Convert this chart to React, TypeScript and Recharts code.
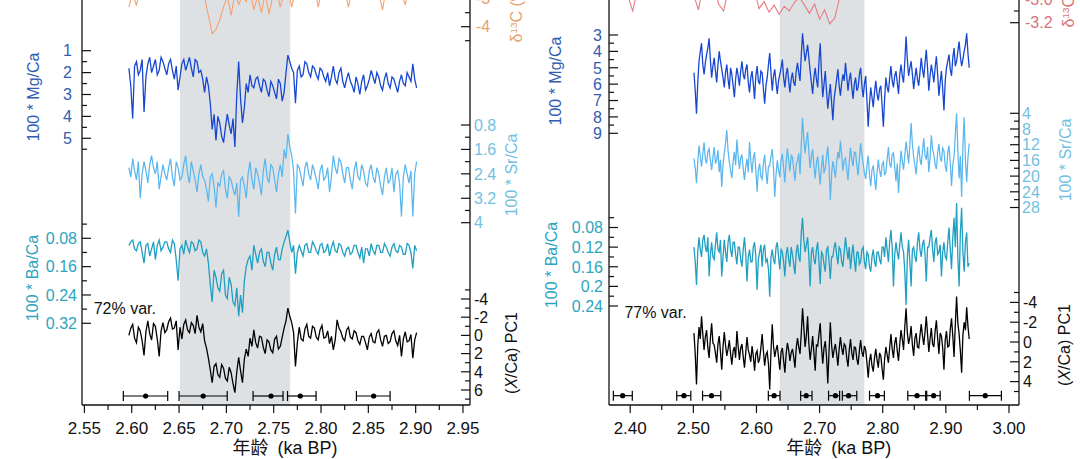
import React from 'react';
import { ComposedChart, Line, XAxis, YAxis, ReferenceArea, Scatter, ErrorBar } from 'recharts';

// ================= DATA : left panel =================
const ageL = [
  2.597, 2.599, 2.601, 2.603, 2.605, 2.607, 2.609, 2.611, 2.613, 2.615,
  2.617, 2.619, 2.621, 2.623, 2.625, 2.627, 2.629, 2.631, 2.633, 2.635,
  2.637, 2.639, 2.641, 2.643, 2.645, 2.647, 2.649, 2.651, 2.653, 2.655,
  2.657, 2.659, 2.661, 2.663, 2.665, 2.667, 2.669, 2.671, 2.673, 2.675,
  2.677, 2.679, 2.681, 2.683, 2.685, 2.687, 2.689, 2.691, 2.693, 2.695,
  2.697, 2.699, 2.701, 2.703, 2.705, 2.707, 2.709, 2.711, 2.713, 2.715,
  2.717, 2.719, 2.721, 2.723, 2.725, 2.727, 2.729, 2.731, 2.733, 2.735,
  2.737, 2.739, 2.741, 2.743, 2.745, 2.747, 2.749, 2.751, 2.753, 2.755,
  2.757, 2.759, 2.761, 2.763, 2.765, 2.767, 2.769, 2.771, 2.773, 2.775,
  2.777, 2.779, 2.781, 2.783, 2.785, 2.787, 2.789, 2.791, 2.793, 2.795,
  2.797, 2.799, 2.801, 2.803, 2.805, 2.807, 2.809, 2.811, 2.813, 2.815,
  2.817, 2.819, 2.821, 2.823, 2.825, 2.827, 2.829, 2.831, 2.833, 2.835,
  2.837, 2.839, 2.841, 2.843, 2.845, 2.847, 2.849, 2.851, 2.853, 2.855,
  2.857, 2.859, 2.861, 2.863, 2.865, 2.867, 2.869, 2.871, 2.873, 2.875,
  2.877, 2.879, 2.881, 2.883, 2.885, 2.887, 2.889, 2.891, 2.893, 2.895,
  2.897, 2.899, 2.901,
];
const mgL = [
  1.8, 2.6, 4.1, 1.7, 1.5, 2.1, 1.9, 1.4, 3.8, 2.2,
  1.6, 1.3, 2.0, 1.7, 1.4, 2.1, 1.9, 1.3, 1.5, 1.8,
  2.1, 1.6, 1.4, 1.9, 2.3, 1.7, 2.8, 2.2, 1.6, 1.4,
  1.9, 1.6, 1.3, 1.8, 2.2, 1.4, 1.5, 2.0, 1.9, 2.3,
  2.9, 2.2, 2.6, 3.4, 4.6, 3.9, 5.1, 4.0, 4.3, 4.9,
  5.2, 4.5, 3.9, 4.4, 4.8, 4.1, 5.4, 3.0, 1.5, 3.2,
  4.3, 3.6, 2.5, 2.9, 2.1, 2.6, 2.7, 2.3, 2.2, 2.6,
  2.9, 2.3, 2.4, 2.8, 3.1, 2.4, 2.6, 2.9, 3.2, 2.3,
  2.5, 3.3, 2.9, 2.0, 1.2, 1.5, 1.8, 2.0, 3.4, 1.9,
  1.7, 2.2, 2.1, 1.5, 1.6, 2.0, 2.2, 1.7, 1.8, 2.1,
  2.3, 1.8, 1.9, 2.2, 2.4, 2.0, 2.6, 2.2, 1.7, 2.3,
  2.5, 2.0, 1.8, 2.4, 2.7, 2.3, 2.0, 2.4, 2.6, 2.9,
  2.2, 2.5, 3.0, 2.4, 2.1, 2.8, 2.6, 2.3, 1.9, 2.2,
  2.5, 2.0, 2.2, 2.6, 2.8, 2.3, 2.0, 2.5, 2.7, 2.2,
  2.3, 2.6, 2.9, 2.4, 2.1, 2.5, 2.6, 2.0, 2.2, 2.4,
  1.6, 2.3, 2.7,
];
const srL = [
  2.2, 2.5, 1.9, 2.3, 2.6, 2.0, 3.2, 2.4, 2.0, 2.3,
  2.7, 2.1, 1.8, 2.2, 2.4, 2.0, 2.9, 2.5, 2.1, 2.4,
  2.6, 2.2, 1.9, 2.5, 2.8, 2.0, 2.2, 2.6, 2.5, 2.1,
  1.8, 2.4, 2.7, 2.0, 2.3, 2.6, 3.0, 2.4, 2.1, 2.5,
  2.6, 2.9, 3.3, 2.5, 2.4, 2.8, 3.5, 2.7, 2.8, 2.4,
  2.3, 2.9, 3.2, 2.5, 2.6, 2.9, 3.1, 2.7, 3.8, 2.6,
  2.5, 2.8, 3.2, 2.4, 2.0, 2.6, 2.9, 2.2, 2.4, 2.7,
  3.1, 2.3, 1.9, 2.5, 2.7, 2.1, 2.2, 2.6, 3.0, 2.4,
  2.1, 2.5, 1.6, 1.9, 1.1, 1.5, 1.8, 2.3, 3.7, 2.1,
  2.2, 2.5, 2.8, 2.2, 2.0, 2.4, 2.6, 2.1, 2.3, 2.6,
  2.9, 2.3, 2.1, 2.6, 2.5, 2.2, 3.0, 2.5, 1.8, 2.2,
  2.4, 1.9, 2.0, 2.4, 2.7, 2.2, 2.2, 2.6, 2.9, 2.3,
  2.0, 2.5, 2.6, 2.1, 2.3, 2.7, 2.8, 2.3, 2.1, 2.5,
  2.7, 2.2, 2.4, 2.8, 3.1, 2.5, 2.2, 2.7, 2.6, 2.2,
  3.0, 2.4, 2.3, 2.7, 3.8, 2.5, 2.1, 2.4, 2.7, 2.3,
  3.8, 2.4, 2.0,
];
const baL = [
  0.10, 0.09, 0.085, 0.11, 0.115, 0.095, 0.09, 0.12, 0.15, 0.10,
  0.095, 0.13, 0.11, 0.09, 0.14, 0.10, 0.085, 0.115, 0.105, 0.09,
  0.09, 0.11, 0.12, 0.085, 0.095, 0.14, 0.20, 0.11, 0.10, 0.125,
  0.085, 0.105, 0.12, 0.09, 0.095, 0.115, 0.11, 0.085, 0.09, 0.12,
  0.13, 0.11, 0.15, 0.21, 0.26, 0.17, 0.19, 0.22, 0.23, 0.18,
  0.17, 0.24, 0.25, 0.19, 0.21, 0.26, 0.27, 0.22, 0.30, 0.24,
  0.29, 0.20, 0.16, 0.14, 0.13, 0.17, 0.10, 0.125, 0.15, 0.12,
  0.11, 0.145, 0.16, 0.12, 0.12, 0.15, 0.17, 0.125, 0.105, 0.14,
  0.14, 0.11, 0.09, 0.075, 0.057, 0.09, 0.12, 0.10, 0.18, 0.12,
  0.10, 0.115, 0.13, 0.10, 0.095, 0.12, 0.12, 0.09, 0.10, 0.115,
  0.125, 0.10, 0.095, 0.12, 0.115, 0.095, 0.13, 0.105, 0.09, 0.115,
  0.12, 0.095, 0.10, 0.12, 0.13, 0.11, 0.105, 0.125, 0.12, 0.10,
  0.10, 0.12, 0.135, 0.105, 0.15, 0.11, 0.11, 0.13, 0.095, 0.115,
  0.125, 0.10, 0.10, 0.12, 0.12, 0.095, 0.105, 0.12, 0.13, 0.105,
  0.095, 0.115, 0.12, 0.10, 0.105, 0.125, 0.125, 0.095, 0.10, 0.12,
  0.165, 0.10, 0.115,
];
const pcL = [
  0.0, -0.8, -1.2, 0.3, 0.8, -0.9, -0.5, 0.6, 2.2, -0.4,
  -1.6, -0.2, 0.5, -1.3, -1.0, 0.4, 2.3, -0.5, -1.4, -0.3,
  -0.6, -1.5, -1.9, -0.7, -0.8, -1.6, 1.6, -0.9, 0.4, -1.2,
  -1.7, -0.6, -0.3, -1.4, -1.1, -0.2, -2.2, -0.9, -0.4, -1.3,
  0.6, 1.4, 2.5, 3.8, 5.2, 3.4, 3.1, 4.3, 4.6, 3.2,
  3.6, 4.7, 5.0, 3.5, 4.1, 5.3, 6.3, 4.0, 2.4, 3.9,
  5.2, 2.6, 1.5, 2.3, 0.3, 1.2, -0.6, 0.8, 1.4, 0.1,
  0.2, 1.3, 2.0, 0.5, 0.7, 1.6, 1.9, 0.4, 0.1, 1.5,
  1.2, 0.2, -0.8, -1.6, -3.0, -2.1, -1.4, -0.3, 3.4, 0.8,
  -0.9, 0.4, 0.6, -0.7, -1.2, 0.1, 0.3, -1.0, -0.8, 0.2,
  0.5, -0.6, -1.1, 0.3, 0.2, -0.5, 0.9, 0.1, 1.6, 0.5,
  -1.7, -0.8, -0.4, 0.3, 0.6, -0.6, -0.9, 0.2, 0.4, -0.5,
  -0.3, 0.6, 1.0, 0.1, 0.1, 0.8, 1.6, 0.2, -0.2, 0.7,
  0.8, -0.3, -0.6, 0.5, 1.2, 0.1, 0.0, 0.9, 0.7, -0.2,
  -0.5, 0.6, 1.1, 0.0, 2.3, 0.4, -0.4, 0.7, 0.6, -0.1,
  2.5, 0.5, -0.3,
];
const ageD13L = [
  2.597, 2.601, 2.605, 2.609, 2.613, 2.617, 2.621, 2.625, 2.629, 2.633,
  2.637, 2.641, 2.645, 2.649, 2.653, 2.657, 2.661, 2.665, 2.669, 2.673,
  2.677, 2.681, 2.685, 2.689, 2.693, 2.697, 2.701, 2.705, 2.709, 2.713,
  2.717, 2.721, 2.725, 2.729, 2.733, 2.737, 2.741, 2.745, 2.749, 2.753,
  2.757, 2.761, 2.765, 2.769, 2.773, 2.777, 2.781, 2.785, 2.789, 2.793,
  2.797, 2.801, 2.805, 2.809, 2.813, 2.817, 2.821, 2.825, 2.829, 2.833,
  2.837, 2.841, 2.845, 2.849, 2.853, 2.857, 2.861, 2.865, 2.869, 2.873,
  2.877, 2.881, 2.885, 2.889, 2.893, 2.897, 2.901,
];
const d13L = [
  -3.3, -2.8, -3.25, -2.6, -2.9, -2.5, -2.8, -2.4, -2.7, -2.9,
  -2.5, -2.8, -2.6, -2.9, -2.4, -2.7, -2.5, -2.85, -2.6, -2.9,
  -2.95, -3.6, -4.25, -4.1, -3.75, -3.3, -2.9, -3.6, -2.8, -3.2,
  -2.9, -3.1, -2.7, -3.4, -2.9, -3.5, -2.8, -3.55, -2.9, -2.7,
  -3.3, -2.8, -2.6, -3.3, -2.7, -2.5, -2.8, -2.6, -2.9, -2.5,
  -3.3, -2.7, -2.5, -2.8, -2.6, -2.9, -2.5, -2.7, -3.3, -2.6,
  -2.8, -2.5, -2.9, -2.6, -2.7, -2.4, -2.8, -3.4, -2.6, -2.8,
  -2.5, -2.7, -2.9, -3.2, -2.6, -2.8, -2.5,
];
const dateCtrL = [2.6147, 2.6755, 2.7472, 2.7781, 2.8556];
const dateLoL = [2.5911, 2.6500, 2.7282, 2.7646, 2.8374];
const dateHiL = [2.6380, 2.7009, 2.7599, 2.7948, 2.8730];
const bandL: [number, number] = [2.651, 2.7675];

// ================= DATA : right panel =================
const ageR = [
  2.501, 2.503, 2.505, 2.507, 2.509, 2.511, 2.513, 2.515, 2.517, 2.519,
  2.521, 2.523, 2.525, 2.527, 2.529, 2.531, 2.533, 2.535, 2.537, 2.539,
  2.541, 2.543, 2.545, 2.547, 2.549, 2.551, 2.553, 2.555, 2.557, 2.559,
  2.561, 2.563, 2.565, 2.567, 2.569, 2.571, 2.573, 2.575, 2.577, 2.579,
  2.581, 2.583, 2.585, 2.587, 2.589, 2.591, 2.593, 2.595, 2.597, 2.599,
  2.601, 2.603, 2.605, 2.607, 2.609, 2.611, 2.613, 2.615, 2.617, 2.619,
  2.621, 2.623, 2.625, 2.627, 2.629, 2.631, 2.633, 2.635, 2.637, 2.639,
  2.641, 2.643, 2.645, 2.647, 2.649, 2.651, 2.653, 2.655, 2.657, 2.659,
  2.661, 2.663, 2.665, 2.667, 2.669, 2.671, 2.673, 2.675, 2.677, 2.679,
  2.681, 2.683, 2.685, 2.687, 2.689, 2.691, 2.693, 2.695, 2.697, 2.699,
  2.701, 2.703, 2.705, 2.707, 2.709, 2.711, 2.713, 2.715, 2.717, 2.719,
  2.721, 2.723, 2.725, 2.727, 2.729, 2.731, 2.733, 2.735, 2.737, 2.739,
  2.741, 2.743, 2.745, 2.747, 2.749, 2.751, 2.753, 2.755, 2.757, 2.759,
  2.761, 2.763, 2.765, 2.767, 2.769, 2.771, 2.773, 2.775, 2.777, 2.779,
  2.781, 2.783, 2.785, 2.787, 2.789, 2.791, 2.793, 2.795, 2.797, 2.799,
  2.801, 2.803, 2.805, 2.807, 2.809, 2.811, 2.813, 2.815, 2.817, 2.819,
  2.821, 2.823, 2.825, 2.827, 2.829, 2.831, 2.833, 2.835, 2.837, 2.839,
  2.841, 2.843, 2.845, 2.847, 2.849, 2.851, 2.853, 2.855, 2.857, 2.859,
  2.861, 2.863, 2.865, 2.867, 2.869, 2.871, 2.873, 2.875, 2.877, 2.879,
  2.881, 2.883, 2.885, 2.887, 2.889, 2.891, 2.893, 2.895, 2.897, 2.899,
  2.901, 2.903, 2.905, 2.907, 2.909, 2.911, 2.913, 2.915, 2.917, 2.919,
  2.921, 2.923, 2.925, 2.927, 2.929, 2.931, 2.933, 2.935, 2.937,
];
const mgR = [
  5.3, 6.4, 7.8, 5.9, 4.6, 4.0, 3.5, 4.8, 5.4, 4.7,
  4.2, 3.8, 3.2, 4.5, 5.6, 4.9, 4.4, 5.2, 5.9, 4.8,
  4.0, 4.6, 5.1, 5.6, 6.2, 5.3, 4.8, 5.7, 6.3, 5.0,
  5.4, 6.1, 6.8, 5.7, 5.0, 5.5, 6.1, 5.2, 4.6, 5.4,
  5.7, 5.1, 4.8, 5.9, 6.5, 5.6, 5.2, 6.0, 6.9, 5.5,
  4.9, 5.8, 6.0, 5.2, 5.3, 6.3, 7.2, 6.1, 5.6, 4.8,
  4.1, 5.3, 6.4, 5.5, 5.1, 5.9, 6.6, 5.8, 5.4, 5.0,
  4.5, 5.6, 6.2, 5.4, 5.0, 5.8, 6.5, 5.7, 5.3, 5.9,
  6.1, 5.2, 4.7, 5.3, 5.8, 4.2, 2.9, 3.8, 4.6, 4.1,
  3.6, 4.4, 5.2, 5.9, 6.6, 5.6, 5.0, 5.7, 6.2, 4.6,
  3.5, 5.4, 6.8, 6.0, 5.2, 6.4, 7.5, 6.7, 6.0, 7.1,
  8.2, 6.9, 6.3, 5.7, 5.1, 6.1, 6.7, 5.9, 5.4, 5.8,
  4.7, 5.5, 6.4, 5.7, 5.3, 6.2, 6.9, 6.0, 5.6, 6.4,
  6.2, 5.4, 5.0, 6.1, 6.8, 6.0, 5.5, 7.0, 8.6, 7.2,
  6.2, 6.8, 7.4, 6.5, 5.8, 6.6, 7.0, 6.3, 6.1, 7.3,
  8.6, 6.9, 5.6, 6.2, 6.5, 5.6, 4.9, 5.8, 6.2, 5.5,
  5.2, 5.9, 6.6, 5.4, 4.8, 5.5, 5.9, 4.6, 3.1, 4.5,
  5.5, 5.0, 4.6, 5.4, 6.3, 5.6, 5.0, 5.7, 6.1, 5.3,
  4.4, 5.1, 5.6, 4.7, 3.9, 5.0, 6.4, 5.5, 4.8, 5.3,
  5.9, 5.0, 4.3, 5.4, 6.7, 5.9, 5.2, 6.3, 7.6, 5.8,
  5.0, 4.6, 4.2, 5.1, 5.5, 4.4, 3.8, 4.9, 4.6, 4.0,
  3.4, 4.3, 4.9, 4.5, 4.0, 3.6, 2.9, 4.1, 5.0,
];
const srR = [
  15.5, 18.0, 21.8, 16.2, 12.2, 15.0, 17.6, 14.3, 11.4, 15.6,
  16.8, 13.7, 13.0, 16.1, 18.5, 15.2, 12.6, 16.8, 15.9, 13.4,
  19.0, 15.8, 22.8, 17.0, 14.2, 11.5, 8.3, 13.6, 16.4, 18.7,
  20.5, 16.3, 13.8, 17.2, 10.7, 14.9, 18.2, 15.4, 14.5, 18.1,
  21.0, 17.6, 15.6, 19.0, 11.3, 16.0, 19.2, 15.3, 13.9, 18.4,
  24.0, 18.5, 16.8, 20.1, 20.8, 16.7, 14.6, 18.9, 22.0, 17.5,
  17.4, 15.0, 13.1, 18.2, 25.3, 19.6, 16.0, 18.4, 20.3, 15.9,
  14.3, 17.8, 21.6, 16.5, 12.9, 16.0, 18.8, 14.7, 15.2, 18.3,
  21.2, 17.1, 16.0, 14.2, 19.5, 11.8, 5.2, 10.4, 14.2, 11.0,
  8.8, 13.9, 17.9, 15.1, 13.2, 17.4, 20.6, 16.5, 15.0, 18.9,
  22.1, 17.7, 14.6, 19.3, 18.0, 15.2, 12.4, 17.8, 26.1, 19.5,
  16.2, 18.1, 20.4, 16.6, 13.8, 15.5, 11.0, 14.7, 18.6, 16.0,
  15.4, 18.2, 21.0, 16.4, 12.8, 15.8, 17.5, 13.9, 14.0, 17.3,
  19.8, 15.6, 11.6, 14.4, 16.9, 19.2, 20.7, 17.4, 14.8, 19.6,
  22.6, 18.4, 17.3, 20.5, 23.5, 19.1, 15.8, 18.6, 20.2, 17.0,
  16.4, 19.8, 19.0, 15.7, 12.6, 16.9, 17.8, 14.4, 14.1, 17.6,
  21.3, 16.8, 24.3, 18.0, 13.5, 16.2, 18.4, 14.6, 11.2, 13.8,
  16.8, 12.1, 6.5, 11.9, 15.1, 17.3, 19.6, 15.0, 12.3, 15.7,
  17.2, 13.5, 10.4, 14.8, 15.8, 12.6, 19.0, 15.4, 9.6, 13.2,
  14.5, 17.0, 18.2, 14.1, 11.8, 15.3, 16.3, 12.9, 13.6, 17.4,
  18.9, 14.0, 12.2, 16.7, 22.5, 17.1, 15.0, 9.2, 4.0, 13.5,
  20.6, 14.8, 25.3, 12.4, 5.0, 16.0, 21.5, 15.2, 11.7,
];
const baR = [
  0.12, 0.15, 0.197, 0.13, 0.10, 0.125, 0.14, 0.105, 0.095, 0.12,
  0.13, 0.10, 0.18, 0.135, 0.11, 0.14, 0.145, 0.115, 0.09, 0.125,
  0.13, 0.105, 0.18, 0.14, 0.105, 0.13, 0.15, 0.11, 0.095, 0.125,
  0.14, 0.11, 0.11, 0.135, 0.155, 0.12, 0.12, 0.145, 0.16, 0.125,
  0.10, 0.135, 0.19, 0.14, 0.125, 0.15, 0.15, 0.12, 0.11, 0.14,
  0.207, 0.145, 0.13, 0.115, 0.16, 0.125, 0.115, 0.15, 0.145, 0.165,
  0.221, 0.14, 0.125, 0.145, 0.155, 0.12, 0.11, 0.14, 0.165, 0.125,
  0.13, 0.15, 0.18, 0.135, 0.12, 0.145, 0.16, 0.12, 0.135, 0.155,
  0.175, 0.13, 0.115, 0.14, 0.15, 0.09, 0.06, 0.105, 0.13, 0.115,
  0.10, 0.14, 0.2, 0.13, 0.12, 0.145, 0.155, 0.125, 0.11, 0.15,
  0.195, 0.13, 0.135, 0.155, 0.17, 0.125, 0.12, 0.15, 0.185, 0.14,
  0.14, 0.12, 0.11, 0.135, 0.155, 0.12, 0.125, 0.15, 0.16, 0.13,
  0.10, 0.125, 0.145, 0.12, 0.165, 0.135, 0.115, 0.145, 0.17, 0.13,
  0.13, 0.155, 0.15, 0.125, 0.12, 0.15, 0.165, 0.13, 0.135, 0.16,
  0.17, 0.14, 0.125, 0.15, 0.16, 0.13, 0.13, 0.145, 0.155, 0.12,
  0.12, 0.14, 0.1, 0.125, 0.15, 0.11, 0.085, 0.12, 0.2, 0.135,
  0.11, 0.13, 0.145, 0.115, 0.09, 0.12, 0.13, 0.17, 0.238, 0.14,
  0.105, 0.15, 0.2, 0.125, 0.12, 0.14, 0.15, 0.11, 0.09, 0.125,
  0.14, 0.115, 0.105, 0.135, 0.19, 0.12, 0.12, 0.10, 0.085, 0.125,
  0.15, 0.11, 0.1, 0.135, 0.13, 0.115, 0.18, 0.13, 0.11, 0.14,
  0.145, 0.11, 0.08, 0.125, 0.165, 0.10, 0.06, 0.12, 0.03, 0.14,
  0.2, 0.09, 0.04, 0.13, 0.17, 0.11, 0.09, 0.16, 0.153,
];
const pcR = [
  -0.9, 1.2, 4.3, 0.4, -1.5, -0.3, -2.6, -0.8, 0.8, -0.5,
  -1.2, 0.6, 1.6, -0.4, -1.9, 0.1, 0.3, 1.1, 2.1, 0.2,
  -0.6, 1.0, 2.8, 0.5, -1.0, 0.3, 1.4, 0.7, -0.2, 1.2,
  2.3, 0.9, 0.5, 1.6, -1.1, 0.4, 1.8, 0.6, 0.2, 1.5,
  2.6, 1.1, -0.5, 0.8, 1.3, 2.0, 0.4, 1.4, 2.9, 1.2,
  0.9, 2.1, 1.7, 0.6, -0.8, 0.9, 2.4, 1.3, 1.0, 2.2,
  4.8, 0.9, -1.8, 0.4, 1.5, 0.8, 0.3, 1.6, 2.8, 1.0,
  0.6, 1.9, 3.1, 1.2, 0.1, 0.8, 1.9, 1.1, 0.7, 1.5,
  2.6, 0.6, -0.4, 0.5, 1.2, -0.9, -3.4, -1.5, 0.5, -0.6,
  -2.6, 0.2, 1.8, 0.7, -0.6, 1.1, 2.9, 0.3, 0.4, -0.8,
  -1.9, 0.5, 2.2, 0.6, -0.1, 1.5, 4.2, 0.9, -2.0, 0.3,
  1.6, 0.8, 0.2, 1.2, 2.4, 0.7, -0.5, 0.6, 1.3, 0.2,
  0.4, 1.6, 2.5, 0.8, -0.3, 1.1, 1.8, 0.5, 0.6, 1.7,
  2.3, 0.9, -0.2, 1.0, 1.5, 0.4, 0.8, 2.1, 3.6, 1.9,
  1.2, 2.4, 3.0, 1.6, 0.7, 1.8, 2.6, 1.1, 1.4, 2.7,
  3.8, 1.7, 0.5, 1.3, 2.1, 0.6, -0.8, 0.7, 1.6, 0.1,
  -0.5, 0.9, 1.9, 0.2, -1.2, -0.3, 0.8, -1.6, -3.4, -0.9,
  0.2, -0.5, -1.6, 0.3, 1.4, -0.4, -0.9, 0.5, 0.6, -0.7,
  -1.8, -0.6, 0.3, -1.0, -2.6, -0.8, 1.0, -0.3, -1.4, 0.2,
  0.5, -1.1, -2.2, -0.4, 1.2, -0.9, -0.6, 0.6, 2.8, -0.2,
  -1.1, 0.5, 0.4, -1.3, -2.4, -0.6, 1.5, -1.8, -4.6, -1.9,
  -0.8, 0.9, 3.1, -0.7, -2.0, -1.2, -3.5, -1.6, -0.3,
];
const ageD13R = [
  2.380, 2.388, 2.396, 2.404, 2.412, 2.420, 2.428, 2.436, 2.444, 2.452,
  2.460, 2.468, 2.476, 2.484, 2.492, 2.500, 2.508, 2.516, 2.524, 2.532,
  2.540, 2.548, 2.556, 2.564, 2.572, 2.580, 2.588, 2.596, 2.604, 2.612,
  2.620, 2.628, 2.636, 2.644, 2.652, 2.660, 2.668, 2.676, 2.684, 2.692,
  2.700, 2.708, 2.716, 2.724, 2.732, 2.740, 2.748, 2.756, 2.764, 2.772,
  2.780, 2.788, 2.796, 2.804, 2.812, 2.820, 2.828, 2.836, 2.844, 2.852,
  2.860, 2.868, 2.876, 2.884, 2.892, 2.900, 2.908, 2.916, 2.924, 2.932, 2.940,
];
const d13R = [
  -2.85, -2.92, -2.97, -3.10, -2.9, -2.8, -2.88, -2.75, -2.83, -2.9,
  -2.78, -2.86, -2.7, -2.93, -2.82, -2.95, -3.09, -2.87, -2.96, -2.84,
  -3.04, -3.10, -2.9, -2.8, -2.92, -2.85, -2.97, -2.9, -3.08, -3.02,
  -3.11, -3.05, -3.13, -3.06, -3.10, -3.03, -2.98, -3.05, -3.12, -3.04,
  -3.17, -3.09, -3.21, -3.16, -2.98, -2.88, -2.8, -2.9, -2.75, -2.85,
  -2.7, -2.82, -2.9, -2.78, -2.86, -2.72, -2.8, -2.94, -2.76, -2.84,
  -2.7, -2.88, -2.8, -2.92, -2.74, -2.85, -2.78, -2.9, -2.82, -2.75, -2.86,
];
const dateCtrR = [2.3880, 2.4851, 2.5288, 2.6280, 2.6788, 2.7251, 2.7459, 2.7917, 2.8544, 2.8806, 2.9624];
const dateLoR = [2.3733, 2.4737, 2.5146, 2.6188, 2.6700, 2.7142, 2.7360, 2.7791, 2.8397, 2.8697, 2.9373];
const dateHiR = [2.4033, 2.4960, 2.5435, 2.6373, 2.6880, 2.7317, 2.7589, 2.8026, 2.8680, 2.8910, 2.9880];
const bandR: [number, number] = [2.637, 2.771];

// ================= TICKS =================
const xMajorL = [2.55, 2.6, 2.65, 2.7, 2.75, 2.8, 2.85, 2.9, 2.95];
const xMinorL = [2.575, 2.625, 2.675, 2.725, 2.775, 2.825, 2.875, 2.925];
const xMajorR = [2.4, 2.5, 2.6, 2.7, 2.8, 2.9, 3.0];
const xMinorR = [2.45, 2.55, 2.65, 2.75, 2.85, 2.95];

// ================= STYLE / LAYOUT =================
const FONT = "'Liberation Sans', Arial, Helvetica, sans-serif";
const W = 1080;
const H = 459;
const SHIFT = 60; // chart continues above the visible frame (cropped top)
const CH = H + SHIFT;
const PLOT_TOP = -SHIFT;
const PLOT_BOTTOM = 405;
const AXW = 0.01; // near-zero axis width so all axes of a side share the frame line
const BAND = '#dee1e4';
const C = {
  mg: '#1747d1', mgL: '#2f5db3',
  sr: '#5ab6ee', srL: '#74bfe0',
  ba: '#1f9fc1', baL: '#2ba5bd',
  d13a: '#f3a170', d13aL: '#e8a06c',
  d13b: '#e77b80', d13bL: '#d97379',
  pc: '#000000',
};

type Pt = { age: number; v: number };
const zip = (a: number[], v: number[]): Pt[] => a.map((age, i) => ({ age, v: v[i] }));
const mkDates = (c: number[], lo: number[], hi: number[]) =>
  c.map((age, i) => ({ age, row: 0, err: [age - lo[i], hi[i] - age] }));

const inv = (vA: number, pA: number, vB: number, pB: number) => (p: number) =>
  vA + ((p - pA) * (vB - vA)) / (pB - pA);

type AxisCfg = {
  id: string; side: 'left' | 'right'; ref: [number, number, number, number];
  majors: number[]; minors: number[]; color: string; gap: number;
  fmt?: (v: number) => string; line?: boolean;
};
type SeriesCfg = { axis: string; data: Pt[]; color: string; w: number };
type PanelCfg = {
  left: number; plotL: number; plotR: number; xRef: [number, number, number, number];
  xMajors: number[]; xMinors: number[]; band: [number, number];
  axes: AxisCfg[]; series: SeriesCfg[]; dates: any[]; rowY: number;
};

const near = (arr: number[], v: number) => arr.some((m) => Math.abs(m - v) < 1e-6);

function makeYTick(a: AxisCfg) {
  return (props: any) => {
    const { x, y, payload } = props;
    const v = payload.value;
    const major = near(a.majors, v);
    const dir = a.side === 'left' ? 1 : -1;
    const len = major ? 9 : 5;
    return (
      <g>
        <line x1={x} y1={y} x2={x + dir * len} y2={y} stroke="#111" strokeWidth={1.2} />
        {major ? (
          <text x={x - dir * a.gap} y={y} dy="0.36em" textAnchor={a.side === 'left' ? 'end' : 'start'}
            fill={a.color} fontSize={16} fontFamily={FONT}>
            {a.fmt ? a.fmt(v) : String(v)}
          </text>
        ) : null}
      </g>
    );
  };
}

function makeXTick(majors: number[]) {
  return (props: any) => {
    const { x, y, payload } = props;
    const major = near(majors, payload.value);
    return (
      <g>
        <line x1={x} y1={y} x2={x} y2={y + (major ? 8 : 5)} stroke="#111" strokeWidth={1.2} />
        {major ? (
          <text x={x} y={y + 23} dy="0.36em" textAnchor="middle" fill="#111" fontSize={17} fontFamily={FONT}>
            {Number(payload.value).toFixed(2)}
          </text>
        ) : null}
      </g>
    );
  };
}

const dateDot = (p: any) => <circle cx={p.cx} cy={p.cy} r={2.6} fill="#000" />;

function Panel({ cfg }: { cfg: PanelCfg }) {
  const fx = inv(...cfg.xRef);
  const xDomain: [number, number] = [fx(cfg.plotL), fx(cfg.plotR)];
  const fr = inv(0, cfg.rowY, 1, cfg.rowY - 10);
  const rowDomain: [number, number] = [fr(PLOT_BOTTOM), fr(PLOT_TOP)];
  return (
    <div style={{ position: 'absolute', left: cfg.left, top: -SHIFT, width: 540, height: CH }}>
      <ComposedChart
        width={540}
        height={CH}
        margin={{ top: 0, bottom: CH - (PLOT_BOTTOM + SHIFT) - AXW, left: cfg.plotL - cfg.left - AXW, right: cfg.left + 540 - cfg.plotR - AXW }}
      >
        <XAxis
          dataKey="age" type="number" domain={xDomain} allowDataOverflow
          ticks={[...cfg.xMajors, ...cfg.xMinors]} interval={0} height={AXW}
          tickSize={0} tickMargin={0} tickLine={false}
          axisLine={{ stroke: '#111', strokeWidth: 1.3 }} tick={makeXTick(cfg.xMajors)}
        />
        {cfg.axes.map((a) => {
          const f = inv(...a.ref);
          const vt = f(PLOT_TOP);
          const vb = f(PLOT_BOTTOM);
          const rev = vt < vb;
          const dom: [number, number] = rev ? [vt, vb] : [vb, vt];
          return (
            <YAxis
              key={a.id} yAxisId={a.id} orientation={a.side} width={AXW} type="number"
              domain={dom} reversed={rev} allowDataOverflow
              ticks={[...a.majors, ...a.minors]} interval={0}
              tickSize={0} tickMargin={0} tickLine={false}
              axisLine={a.line ? { stroke: '#111', strokeWidth: 1.3 } : false}
              tick={makeYTick(a)}
            />
          );
        })}
        <YAxis yAxisId="row" dataKey="row" hide type="number" domain={rowDomain} allowDataOverflow />
        <ReferenceArea yAxisId="pc" x1={cfg.band[0]} x2={cfg.band[1]} fill={BAND} fillOpacity={1} stroke="none" />
        {cfg.series.map((s, i) => (
          <Line
            key={i} yAxisId={s.axis} data={s.data} dataKey="v" type="linear"
            stroke={s.color} strokeWidth={s.w} dot={false} activeDot={false}
            isAnimationActive={false}
          />
        ))}
        <Scatter yAxisId="row" data={cfg.dates} dataKey="row" shape={dateDot} isAnimationActive={false}>
          <ErrorBar dataKey="err" direction="x" width={5} stroke="#000" strokeWidth={1.2} isAnimationActive={false} />
        </Scatter>
      </ComposedChart>
    </div>
  );
}

const leftCfg: PanelCfg = {
  left: 0, plotL: 82, plotR: 470, xRef: [2.55, 84.4, 2.95, 463],
  xMajors: xMajorL, xMinors: xMinorL, band: bandL, rowY: 396,
  axes: [
    { id: 'd13', side: 'right', ref: [-4, 26.7, -3, -1.3], majors: [-4, -3], minors: [-4.5, -3.5, -2.5], color: C.d13aL, gap: 6 },
    { id: 'mg', side: 'left', ref: [1, 50.7, 5, 138.3], majors: [1, 2, 3, 4, 5], minors: [1.5, 2.5, 3.5, 4.5, 5.5], color: C.mgL, gap: 10 },
    { id: 'sr', side: 'right', ref: [0.8, 125, 4, 222.7], majors: [0.8, 1.6, 2.4, 3.2, 4], minors: [1.2, 2, 2.8, 3.6], color: C.srL, gap: 4 },
    { id: 'ba', side: 'left', ref: [0.08, 238.3, 0.32, 323.3], majors: [0.08, 0.16, 0.24, 0.32], minors: [0.04, 0.12, 0.2, 0.28], color: C.baL, gap: 5, line: true },
    { id: 'pc', side: 'right', ref: [-4, 299, 6, 390], majors: [-4, -2, 0, 2, 4, 6], minors: [-5, -3, -1, 1, 3, 5, 7], color: '#111', gap: 4, line: true },
  ],
  series: [
    { axis: 'd13', data: zip(ageD13L, d13L), color: C.d13a, w: 1.1 },
    { axis: 'mg', data: zip(ageL, mgL), color: C.mg, w: 1.3 },
    { axis: 'sr', data: zip(ageL, srL), color: C.sr, w: 1.25 },
    { axis: 'ba', data: zip(ageL, baL), color: C.ba, w: 1.3 },
    { axis: 'pc', data: zip(ageL, pcL), color: C.pc, w: 1.3 },
  ],
  dates: mkDates(dateCtrL, dateLoL, dateHiL),
};

const rightCfg: PanelCfg = {
  left: 540, plotL: 609, plotR: 1019, xRef: [2.4, 630.2, 3.0, 1009],
  xMajors: xMajorR, xMinors: xMinorR, band: bandR, rowY: 395.7,
  axes: [
    { id: 'd13', side: 'right', ref: [-3.2, 22.7, -3.1, 11], majors: [-3.2, -3.0, -2.8], minors: [-3.1, -2.9], color: C.d13bL, gap: 6, fmt: (v) => v.toFixed(1) },
    { id: 'mg', side: 'left', ref: [3, 35, 9, 133.3], majors: [3, 4, 5, 6, 7, 8, 9], minors: [3.5, 4.5, 5.5, 6.5, 7.5, 8.5], color: C.mgL, gap: 7 },
    { id: 'sr', side: 'right', ref: [4, 113.3, 28, 207.5], majors: [4, 8, 12, 16, 20, 24, 28], minors: [6, 10, 14, 18, 22, 26], color: C.srL, gap: 3 },
    { id: 'ba', side: 'left', ref: [0.08, 227.5, 0.24, 306], majors: [0.08, 0.12, 0.16, 0.2, 0.24], minors: [0.06, 0.1, 0.14, 0.18, 0.22], color: C.baL, gap: 6, line: true },
    { id: 'pc', side: 'right', ref: [-4, 302.4, 4, 381.6], majors: [-4, -2, 0, 2, 4], minors: [-5, -3, -1, 1, 3, 5], color: '#111', gap: 4, line: true },
  ],
  series: [
    { axis: 'd13', data: zip(ageD13R, d13R), color: C.d13b, w: 1.1 },
    { axis: 'mg', data: zip(ageR, mgR), color: C.mg, w: 1.3 },
    { axis: 'sr', data: zip(ageR, srR), color: C.sr, w: 1.25 },
    { axis: 'ba', data: zip(ageR, baR), color: C.ba, w: 1.3 },
    { axis: 'pc', data: zip(ageR, pcR), color: C.pc, w: 1.3 },
  ],
  dates: mkDates(dateCtrR, dateLoR, dateHiR),
};

const RotTitle = ({ x, y, color, children }: { x: number; y: number; color: string; children: React.ReactNode }) => (
  <div style={{
    position: 'absolute', left: x, top: y, transform: 'translate(-50%, -50%) rotate(-90deg)',
    whiteSpace: 'nowrap', color, fontFamily: FONT, fontSize: 16, lineHeight: '16px',
  }}>{children}</div>
);
const RotStart = ({ x, y, color, children }: { x: number; y: number; color: string; children: React.ReactNode }) => (
  <div style={{
    position: 'absolute', left: x, top: y - 8, transformOrigin: '0 50%', transform: 'rotate(-90deg)',
    whiteSpace: 'nowrap', color, fontFamily: FONT, fontSize: 16, lineHeight: '16px',
  }}>{children}</div>
);
const Plain = ({ x, y, children, size = 16, center = false }: { x: number; y: number; children: React.ReactNode; size?: number; center?: boolean }) => (
  <div style={{
    position: 'absolute', left: x, top: y, transform: center ? 'translate(-50%, -50%)' : 'translate(0, -50%)',
    whiteSpace: 'nowrap', color: '#111', fontFamily: FONT + ", 'Noto Sans CJK SC'", fontSize: size, lineHeight: `${size}px`,
  }}>{children}</div>
);
const D13 = () => (<span>δ<sup style={{ fontSize: '0.62em', verticalAlign: '0.5em' }}>13</sup>C (‰ VPDB)</span>);

export default function App() {
  return (
    <div style={{ position: 'absolute', left: 0, top: 0, width: W, height: H, overflow: 'hidden', background: '#fff' }}>
      <Panel cfg={leftCfg} />
      <Panel cfg={rightCfg} />

      <RotStart x={515} y={41} color={C.d13aL}><D13 /></RotStart>
      <RotTitle x={33.5} y={96.5} color={C.mgL}>100 * Mg/Ca</RotTitle>
      <RotTitle x={511.5} y={175} color={C.srL}>100 * Sr/Ca</RotTitle>
      <RotTitle x={33} y={277.5} color={C.baL}>100 * Ba/Ca</RotTitle>
      <RotTitle x={511.5} y={352.5} color="#111">(<i>X</i>/Ca) PC1</RotTitle>
      <Plain x={93.7} y={308.5}>72% var.</Plain>
      <Plain x={285} y={448} size={18} center>年龄&#8194;(ka BP)</Plain>

      <RotStart x={1066.5} y={26} color={C.d13bL}><D13 /></RotStart>
      <RotTitle x={555.5} y={81} color={C.mgL}>100 * Mg/Ca</RotTitle>
      <RotTitle x={1066} y={160} color={C.srL}>100 * Sr/Ca</RotTitle>
      <RotTitle x={552} y={265} color={C.baL}>100 * Ba/Ca</RotTitle>
      <RotTitle x={1065} y={345} color="#111">(<i>X</i>/Ca) PC1</RotTitle>
      <Plain x={624.4} y={312.7}>77% var.</Plain>
      <Plain x={838.7} y={448} size={18} center>年龄&#8194;(ka BP)</Plain>
    </div>
  );
}
